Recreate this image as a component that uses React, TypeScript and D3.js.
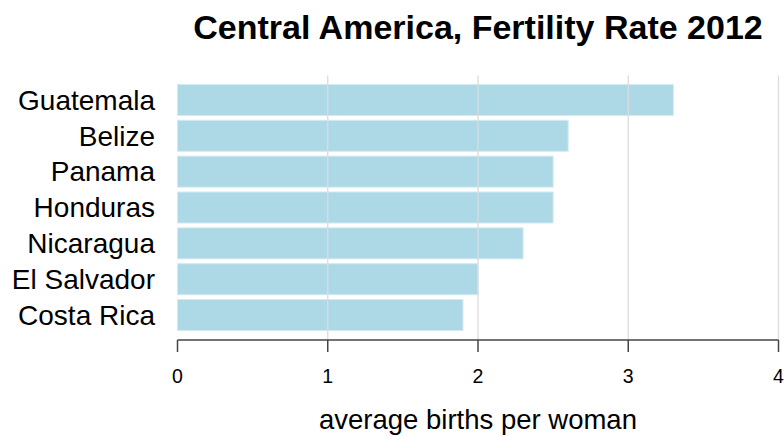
import React from "react";
import * as d3 from "d3";

const countries = ["Guatemala", "Belize", "Panama", "Honduras", "Nicaragua", "El Salvador", "Costa Rica"];
const fertility = [3.3, 2.6, 2.5, 2.5, 2.3, 2.0, 1.9];
const xTicks = [0, 1, 2, 3, 4];
const titleText = "Central America, Fertility Rate 2012";
const xLabel = "average births per woman";

const W = 784;
const H = 437;
const FONT = "'Liberation Sans', Arial, Helvetica, sans-serif";

export default function App() {
  const x = d3.scaleLinear().domain([0, 4]).range([177.5, 778.5]);
  const y = d3
    .scaleBand<string>()
    .domain(countries)
    .range([82, 333])
    .paddingInner(0.135)
    .paddingOuter(0.0675);
  const axisY = 340;

  return (
    <svg
      width={W}
      height={H}
      style={{ position: "absolute", left: 0, top: 0, background: "#fff" }}
      fontFamily={FONT}
    >
      <text x={478} y={39} textAnchor="middle" fontSize={34} fontWeight="bold" fill="#000">
        {titleText}
      </text>
      {countries.map((c, i) => (
        <rect
          key={c}
          x={x(0)}
          y={y(c)!}
          width={x(fertility[i]) - x(0)}
          height={y.bandwidth()}
          fill="#add8e6"
          stroke="#d3eaf2"
          strokeWidth={1}
        />
      ))}
      {xTicks
        .filter((t) => t > 0)
        .map((t) => (
          <line key={"g" + t} x1={x(t)} x2={x(t)} y1={75.5} y2={axisY} stroke="#dcdcdc" strokeWidth={1.3} />
        ))}
      {countries.map((c) => (
        <text
          key={"l" + c}
          x={155}
          y={y(c)! + y.bandwidth() / 2}
          dy="0.35em"
          textAnchor="end"
          fontSize={28}
          fill="#000"
        >
          {c}
        </text>
      ))}
      <line x1={x(0)} x2={x(4)} y1={axisY} y2={axisY} stroke="#444" strokeWidth={1.5} />
      {xTicks.map((t) => (
        <g key={"t" + t}>
          <line x1={x(t)} x2={x(t)} y1={axisY} y2={axisY + 12} stroke="#444" strokeWidth={1.5} />
          <text x={x(t)} y={383} textAnchor="middle" fontSize={19.5} fill="#000">
            {t}
          </text>
        </g>
      ))}
      <text x={478} y={429} textAnchor="middle" fontSize={27.5} fill="#000">
        {xLabel}
      </text>
    </svg>
  );
}
